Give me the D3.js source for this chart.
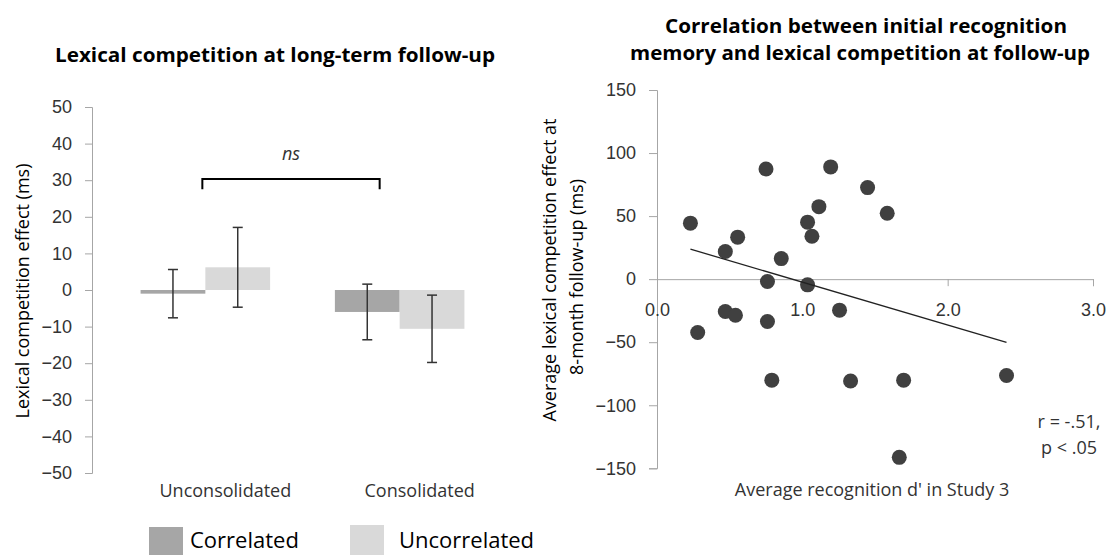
<!DOCTYPE html>
<html>
<head>
<meta charset="utf-8">
<script src="https://cdn.jsdelivr.net/npm/d3@7"></script>
<style>
  body { margin: 0; background: #fff; }
  svg { display: block; font-family: "Open Sans", sans-serif; }
</style>
</head>
<body>
<svg width="1116" height="555"></svg>
<script>
// bar chart data
const conditions = ["Unconsolidated", "Consolidated"];
const groups = ["Correlated", "Uncorrelated"];
const correlatedMean = [-1.0, -6.0];
const correlatedErr = [6.6, 7.6];
const uncorrelatedMean = [6.2, -10.6];
const uncorrelatedErr = [10.9, 9.2];
const barTicks = [-50, -40, -30, -20, -10, 0, 10, 20, 30, 40, 50];

// scatter data
const dPrime = [0.23, 0.28, 0.47, 0.555, 0.47, 0.54, 0.75, 0.76, 0.76, 0.79, 0.855,
  1.036, 1.066, 1.036, 1.114, 1.195, 1.256, 1.332, 1.449, 1.584, 1.697, 1.667, 2.405];
const effect = [44.4, -42.3, 21.9, 33.3, -25.7, -28.6, 87.4, -1.9, -33.6, -80.1, 16.3,
  45.2, 34.0, -4.5, 57.5, 89.0, -24.6, -80.8, 72.6, 52.3, -80.1, -141.3, -76.4];
const trendX = [0.23, 2.405];
const trendY = [23.8, -50.2];
const scatterYTicks = [-150, -100, -50, 0, 50, 100, 150];
const scatterXTicks = [0, 1, 2, 3];

const colors = { Correlated: "#a6a6a6", Uncorrelated: "#d9d9d9" };
const axisGray = "#a6a6a6";
const textColor = "#333";

const svg = d3.select("svg");

function styleAxis(g) {
  g.selectAll(".domain, .tick line").attr("stroke", axisGray);
  g.selectAll("text").attr("fill", textColor).style("font-size", "18px");
}

// ---------- left: bar chart ----------
const y1 = d3.scaleLinear().domain([-50, 50]).range([473, 107]);
const x0 = d3.scaleBand().domain(conditions).range([92, 513])
  .paddingInner(1 / 3).paddingOuter(0.25);
const x1 = d3.scaleBand().domain(groups).range([0, x0.bandwidth()]);

svg.append("g")
    .attr("transform", "translate(92,0)")
    .call(d3.axisLeft(y1).tickValues(barTicks).tickSize(7).tickPadding(13))
    .call(styleAxis);

const bars = conditions.flatMap((c, i) => [
  { cond: c, group: "Correlated", mean: correlatedMean[i], err: correlatedErr[i] },
  { cond: c, group: "Uncorrelated", mean: uncorrelatedMean[i], err: uncorrelatedErr[i] }
]);

const barG = svg.append("g");
barG.selectAll("rect")
  .data(bars)
  .join("rect")
    .attr("x", d => x0(d.cond) + x1(d.group))
    .attr("width", x1.bandwidth())
    .attr("y", d => y1(Math.max(0, d.mean)))
    .attr("height", d => Math.abs(y1(d.mean) - y1(0)))
    .attr("fill", d => colors[d.group]);

const errG = barG.selectAll("g.err")
  .data(bars)
  .join("g")
    .attr("class", "err")
    .attr("transform", d => `translate(${x0(d.cond) + x1(d.group) + x1.bandwidth() / 2},0)`)
    .attr("stroke", "#333")
    .attr("stroke-width", 1.5);
errG.append("line")
    .attr("y1", d => y1(d.mean + d.err))
    .attr("y2", d => y1(d.mean - d.err));
errG.append("line")
    .attr("x1", -5).attr("x2", 5)
    .attr("y1", d => y1(d.mean + d.err))
    .attr("y2", d => y1(d.mean + d.err));
errG.append("line")
    .attr("x1", -5).attr("x2", 5)
    .attr("y1", d => y1(d.mean - d.err))
    .attr("y2", d => y1(d.mean - d.err));

// significance bracket
const bx1 = x0("Unconsolidated") + x0.bandwidth() / 2 - 3;
const bx2 = x0("Consolidated") + x1("Uncorrelated") - 20;
svg.append("path")
    .attr("d", `M${bx1},${y1(27.5)}V${y1(30.3)}H${bx2}V${y1(27.5)}`)
    .attr("fill", "none")
    .attr("stroke", "#000")
    .attr("stroke-width", 2);
svg.append("text")
    .attr("x", (bx1 + bx2) / 2)
    .attr("y", y1(35.5))
    .attr("text-anchor", "middle")
    .style("font-style", "italic")
    .style("font-size", "18px")
    .attr("fill", textColor)
    .text("ns");

// category labels
svg.append("g").selectAll("text")
  .data(conditions)
  .join("text")
    .attr("x", d => x0(d) + x0.bandwidth() / 2 + 20)
    .attr("y", 497)
    .attr("text-anchor", "middle")
    .attr("fill", textColor)
    .style("font-size", "18px")
    .text(d => d);

svg.append("text")
    .attr("transform", "translate(29,291) rotate(-90)")
    .attr("text-anchor", "middle")
    .attr("fill", "#000")
    .style("font-size", "18px")
    .text("Lexical competition effect (ms)");

svg.append("text")
    .attr("x", 275)
    .attr("y", 62)
    .attr("text-anchor", "middle")
    .attr("textLength", 440)
    .attr("lengthAdjust", "spacingAndGlyphs")
    .style("font-weight", "bold")
    .style("font-size", "20px")
    .text("Lexical competition at long-term follow-up");

// legend
const legend = svg.append("g").selectAll("g")
  .data(groups)
  .join("g")
    .attr("transform", (d, i) => `translate(${[149, 350][i]},0)`);
legend.append("rect")
    .attr("y", (d, i) => [527, 525][i])
    .attr("width", 34)
    .attr("height", 40)
    .attr("fill", d => colors[d]);
legend.append("text")
    .attr("x", (d, i) => [41, 49][i])
    .attr("y", 548)
    .attr("fill", "#000")
    .style("font-size", "22px")
    .text(d => d);

// ---------- right: scatter ----------
const x2 = d3.scaleLinear().domain([0, 3]).range([657, 1093]);
const y2 = d3.scaleLinear().domain([-150, 150]).range([468.3, 90]);

svg.append("g")
    .attr("transform", "translate(657,0)")
    .call(d3.axisLeft(y2).tickValues(scatterYTicks).tickSize(8).tickPadding(13))
    .call(styleAxis);

svg.append("g")
    .attr("transform", `translate(0,${y2(0)})`)
    .call(d3.axisBottom(x2).tickValues(scatterXTicks).tickFormat(d3.format(".1f"))
      .tickSize(7).tickPadding(17))
    .call(styleAxis);

svg.append("g").selectAll("circle")
  .data(dPrime)
  .join("circle")
    .attr("cx", d => x2(d))
    .attr("cy", (d, i) => y2(effect[i]))
    .attr("r", 7.5)
    .attr("fill", "#404040");

svg.append("line")
    .attr("x1", x2(trendX[0])).attr("y1", y2(trendY[0]))
    .attr("x2", x2(trendX[1])).attr("y2", y2(trendY[1]))
    .attr("stroke", "#222")
    .attr("stroke-width", 1.3);

const stats = svg.append("text")
    .attr("text-anchor", "middle")
    .attr("fill", textColor)
    .style("font-size", "18px");
stats.append("tspan").attr("x", 1069).attr("y", 428).text("r = -.51,");
stats.append("tspan").attr("x", 1069).attr("y", 454).text("p < .05");

svg.append("text")
    .attr("x", 872)
    .attr("y", 496)
    .attr("text-anchor", "middle")
    .attr("fill", textColor)
    .style("font-size", "18px")
    .text("Average recognition d' in Study 3");

svg.append("text")
    .attr("transform", "translate(556,270) rotate(-90)")
    .attr("text-anchor", "middle")
    .attr("fill", "#000")
    .style("font-size", "18px")
    .text("Average lexical competition effect  at");
svg.append("text")
    .attr("transform", "translate(583,277) rotate(-90)")
    .attr("text-anchor", "middle")
    .attr("fill", "#000")
    .style("font-size", "18px")
    .text("8-month follow-up (ms)");

const title = svg.append("text")
    .attr("text-anchor", "middle")
    .style("font-weight", "bold")
    .style("font-size", "20px");
title.append("tspan").attr("x", 866).attr("y", 33)
    .attr("textLength", 402).attr("lengthAdjust", "spacingAndGlyphs")
    .text("Correlation between initial recognition");
title.append("tspan").attr("x", 860).attr("y", 60)
    .attr("textLength", 460).attr("lengthAdjust", "spacingAndGlyphs")
    .text("memory and lexical competition at follow-up");
</script>
</body>
</html>
